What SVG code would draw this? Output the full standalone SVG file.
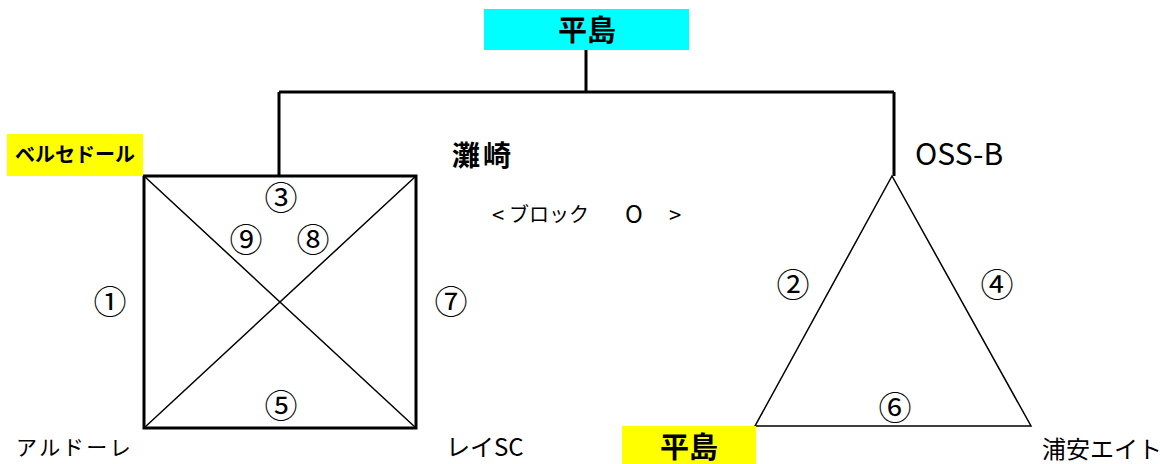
<svg xmlns="http://www.w3.org/2000/svg" width="1160" height="464" viewBox="0 0 1160 464">
<style>
text{font-family:"Noto Sans CJK JP","Liberation Sans",sans-serif;fill:#000}
.num{font-size:33px;text-anchor:middle;dominant-baseline:central}
.thick{stroke:#000;stroke-width:3;fill:none}
.thin{stroke:#000;stroke-width:1.5;fill:none}
</style>
<rect width="1160" height="464" fill="#fff"/>
<g id="connectors">
<path class="thick" d="M586 50V92M279 92H894M279 92V176M894 92V176"/>
</g>
<g id="winner">
<rect x="484" y="9" width="205" height="41" fill="#00ffff"/>
<text x="587" y="41" font-size="29" font-weight="bold" text-anchor="middle">平島</text>
</g>
<g id="square">
<rect x="144" y="176" width="272" height="252" class="thick"/>
<path class="thin" d="M144 176L416 428M416 176L144 428"/>
<text class="num" x="281" y="196">③</text>
<text class="num" x="246" y="238">⑨</text>
<text class="num" x="313" y="238">⑧</text>
<text class="num" x="110" y="300">①</text>
<text class="num" x="451" y="300">⑦</text>
<text class="num" x="281" y="404">⑤</text>
</g>
<g id="berusedoru">
<rect x="7" y="134" width="136" height="42" fill="#ffff00"/>
<text x="75" y="162" font-size="20" font-weight="bold" text-anchor="middle">ベルセドール</text>
</g>
<g id="nadasaki"><text x="452" y="166" font-size="28" font-weight="bold" letter-spacing="3">灘崎</text></g>
<g id="block">
<text x="492" y="223" font-size="22">&lt;</text>
<text x="509" y="222" font-size="20">ブロック</text>
<text x="625" y="223" font-size="24">O</text>
<text x="669" y="223" font-size="22">&gt;</text>
</g>
<g id="aldore"><text x="16" y="455" font-size="21" letter-spacing="2.5">アルドーレ</text></g>
<g id="reisc"><text x="446" y="456" font-size="24">レイSC</text></g>
<g id="triangle">
<path class="thin" d="M892 176L755 426H1031Z"/>
<text class="num" x="793" y="283">②</text>
<text class="num" x="997" y="283">④</text>
<text class="num" x="895" y="406">⑥</text>
</g>
<g id="ossb"><text x="915" y="165" font-size="30">OSS-B</text></g>
<g id="hirashima2">
<rect x="622" y="426" width="134" height="38" fill="#ffff00"/>
<text x="689" y="458" font-size="29" font-weight="bold" text-anchor="middle">平島</text>
</g>
<g id="urayasu"><text x="1042" y="458" font-size="24">浦安エイト</text></g>
</svg>
